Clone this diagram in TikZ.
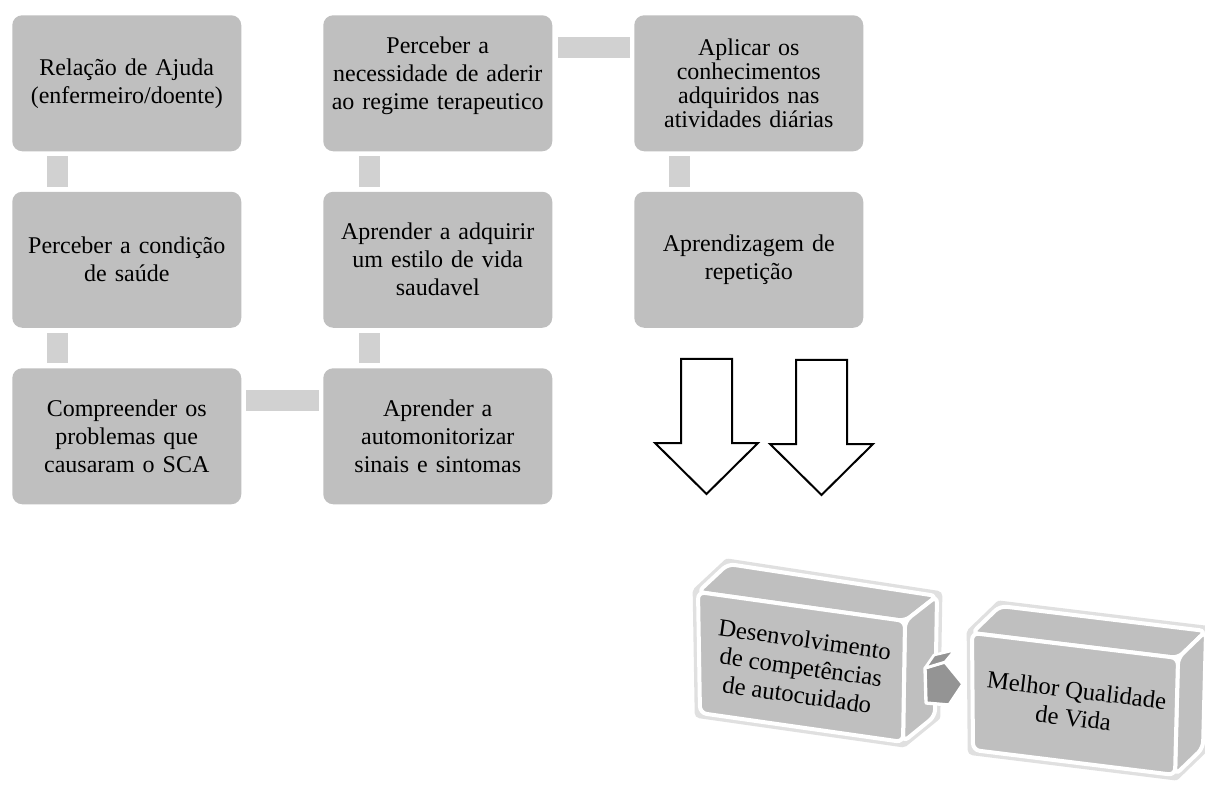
\documentclass[tikz,border=0pt]{standalone}
\usepackage{fontspec}
\setmainfont{Liberation Serif}
\usetikzlibrary{matrix,calc}
\colorlet{stepfill}{black!25}
\colorlet{linkfill}{black!18}
\colorlet{cubefill}{black!25}
\colorlet{tipfill}{black!42}
\newcommand{\cellA}{Relação de Ajuda\\ (enfermeiro/doente)\par}
\newcommand{\cellB}{Perceber a\\ necessidade de aderir\\ ao regime terapeutico\par\vspace{-6pt}\mbox{}}
\newcommand{\cellC}{Aplicar os\\ conhecimentos\\ adquiridos nas\\ atividades diárias\par}
\newcommand{\cellD}{Perceber a condição\\ de saúde\par}
\newcommand{\cellE}{Aprender a adquirir\\ um estilo de vida\\ saudavel\par}
\newcommand{\cellF}{Aprendizagem de\\ repetição\par}
\newcommand{\cellG}{Compreender os\\ problemas que\\ causaram o SCA\par}
\newcommand{\cellH}{Aprender a\\ automonitorizar\\ sinais e sintomas\par}
\newcommand{\cellI}{Desenvolvimento\\ de competências\\ de autocuidado}
\newcommand{\cellJ}{Melhor Qualidade\\ de Vida}

\begin{document}
\begin{tikzpicture}[x=0.75pt,y=-0.75pt,
    any/.style={minimum width=171.75pt,minimum height=102pt,%
                text width=165pt,align=center,inner sep=0pt,outer sep=0pt,%
                font=\fontsize{18}{21}\selectfont},
    stepnode/.style={any,fill=stepfill,rounded corners=7.5pt},
    link/.style={fill=linkfill},
    hollow/.style={draw=black,line width=1.5pt,fill=white,line join=miter},
    halo/.style={draw=black!12,line width=8pt,line join=round},
    face/.style={fill=cubefill,draw=white,line width=3pt,rounded corners=5pt},
    cubetext/.style={align=center,inner sep=0pt,font=\fontsize{18.5}{21}\selectfont}
]
\useasboundingbox (0,0) rectangle (1205,787);

\matrix (steps) [matrix of nodes,nodes={stepnode,anchor=center},%
                 column sep=61.5pt,row sep=30.375pt,%
                 anchor=north west,inner sep=0pt] at (12,15)
{
{\cellA} & {\cellB} & |[font=\fontsize{18}{18}\selectfont]| {\cellC} \\
{\cellD} & {\cellE} & {\cellF} \\
{\cellG} & {\cellH} & \\
};

% links between the steps
\fill[link] ($(steps-1-1.south west)+(35,5)$) rectangle ($(steps-2-1.north west)+(56,-5)$);
\fill[link] ($(steps-2-1.south west)+(35,5)$) rectangle ($(steps-3-1.north west)+(56,-5)$);
\fill[link] ($(steps-3-1.north east)+(5,22)$) rectangle ($(steps-3-2.north west)+(-4,43)$);
\fill[link] ($(steps-2-2.south west)+(36,5)$) rectangle ($(steps-3-2.north west)+(57,-5)$);
\fill[link] ($(steps-1-2.south west)+(36,5)$) rectangle ($(steps-2-2.north west)+(57,-5)$);
\fill[link] ($(steps-1-2.north east)+(6,22)$) rectangle ($(steps-1-3.north west)+(-4,43)$);
\fill[link] ($(steps-1-3.south west)+(35,5)$) rectangle ($(steps-2-3.north west)+(56,-5)$);

% two hollow arrows
\coordinate (arrowL) at (706.5,359);
\coordinate (arrowR) at (821.5,360);
\foreach \a in {arrowL,arrowR}
  \draw[hollow] (\a) ++(-25.5,0) -- ++(51,0) -- ++(0,84) -- ++(26,0)
        -- ++(-51.5,51) -- ++(-51.5,-51) -- ++(26,0) -- cycle;

% first block
\path[halo] (698,592) -- (728,564) -- (937,596) -- (935,716) -- (903,742) -- (700,713) -- cycle;
\draw[face] (698,592) -- (905,621) -- (937,596) -- (728,564) -- cycle;
\draw[face] (905,621) -- (937,596) -- (935,716) -- (903,742) -- cycle;
\draw[face] (698,592) -- (905,621) -- (903,742) -- (700,713) -- cycle;
\node[cubetext,rotate=-8] (desenv) at (801,667) {\cellI};

% tip between the blocks
\draw[fill=tipfill,draw=white,line width=2.5pt,line join=round]
  (925,668) -- (945,662) -- (963,684) -- (949,705) -- (926,703) -- cycle;
\draw[fill=tipfill,draw=white,line width=2pt,line join=round]
  (925,668) -- (934,655) -- (955,650) -- (945,662) -- cycle;

% second block
\path[halo] (972,633) -- (1000,606) -- (1206,631) -- (1203,748) -- (1175,775) -- (973,750) -- cycle;
\draw[face] (972,633) -- (1178,658) -- (1206,631) -- (1000,606) -- cycle;
\draw[face] (1178,658) -- (1206,631) -- (1203,748) -- (1175,775) -- cycle;
\draw[face] (972,633) -- (1178,658) -- (1175,775) -- (973,750) -- cycle;
\node[cubetext,rotate=-7] (qualidade) at (1075,704) {\cellJ};

\end{tikzpicture}
\end{document}
